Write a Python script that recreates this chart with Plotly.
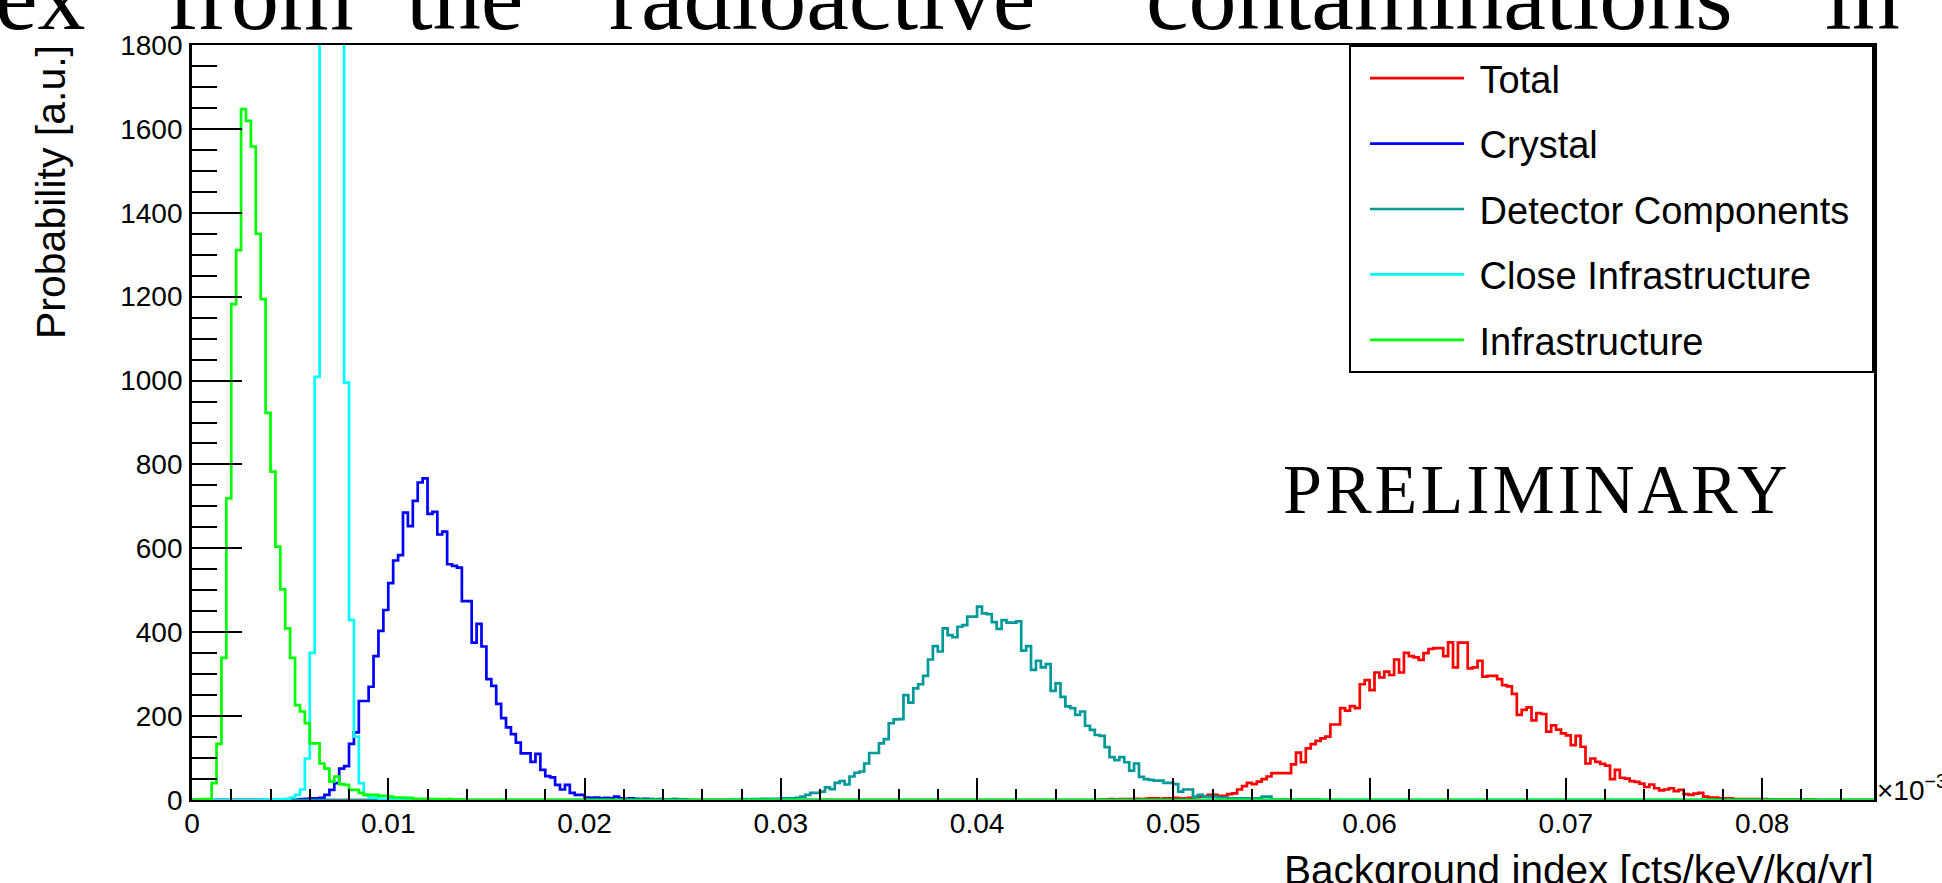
import numpy as np
import plotly.graph_objects as go

# ---------------- data ----------------
BIN_WIDTH = 0.00025
N_BINS = 343
X_RANGE = [0, 0.0857]
Y_RANGE = [0, 1800]

series_names = ["Total", "Crystal", "Detector Components", "Close Infrastructure", "Infrastructure"]
series_colors = ["#ff0000", "#0000ff", "#009999", "#00ffff", "#00ff00"]

total_first_bin = 185
total_values = [1, 1, 2, 1, 2, 2, 2, 3, 2, 3,
                4, 4, 3, 4, 4, 5, 4, 4, 5, 6,
                8, 8, 12, 12, 10, 10,
                14, 16, 25, 33, 41, 38, 44, 50, 56, 64, 64, 64, 64, 85, 113, 90, 123, 133, 141, 147,
                151, 180, 180, 219, 213, 224, 219, 276, 286, 262, 304, 292, 306, 298, 335, 304, 351,
                343, 340, 334, 350, 360, 362, 362, 343, 376, 316, 375, 375, 314, 316, 332, 294, 296,
                296, 288, 274, 271, 253, 203, 215, 221, 190, 207, 205, 163, 178, 168, 159, 154, 131,
                153, 127, 87, 99, 91, 86, 82, 50, 72, 53, 51, 45, 43, 39, 31, 37, 28, 23, 25, 28, 21,
                24, 14, 12, 15, 17, 8, 6, 6, 4, 4, 4, 2, 2, 2, 2, 2, 2, 2,
                1, 1, 1, 1, 1, 1, 1, 1, 1, 1]

crystal_first_bin = 20
crystal_values = [1, 1, 2, 3, 4, 4, 5,
                  12, 24, 40, 75, 81, 134, 161, 236, 236, 270, 343, 403, 453, 517, 571, 584, 685,
                  653, 713, 757, 767, 682, 687, 633, 640, 562, 558, 554, 474, 474, 375, 420, 366,
                  288, 272, 229, 195, 173, 157, 137, 111, 111, 91, 110, 72, 57, 54, 36, 25, 36, 17,
                  12, 12, 6, 5, 6, 4, 5, 4, 8, 4, 3, 4, 3, 2, 3, 2, 1, 2, 1, 1, 2, 1, 1]

detector_first_bin = 110
detector_values = [1, 1, 2, 1, 2, 2, 3, 3, 2, 3,
                   4, 4, 4, 5,
                   8, 12, 17, 17, 20, 30, 26, 41, 45, 37, 56, 65, 68, 87, 112, 112, 135, 145, 183,
                   192, 193, 250, 232, 266, 276, 296, 335, 367, 354, 409, 393, 388, 413, 417, 437,
                   437, 461, 445, 443, 424, 408, 429, 423, 423, 426, 356, 367, 310, 332, 316, 324,
                   260, 278, 246, 223, 219, 203, 211, 177, 167, 155, 153, 126, 102, 95, 102, 90, 70,
                   87, 55, 50, 48, 46, 46, 41, 41, 38, 20, 25, 25, 8, 12, 8, 8, 8, 6, 6,
                   4, 4, 4, 4, 4, 4, 4, 8, 8,
                   1, 1, 1, 1, 1, 1, 1, 1, 1, 1]

close_first_bin = 14
close_values = [1, 1, 1, 2, 2, 3, 6, 12, 25, 99, 351, 1009,
                1980, 2980, 3420, 2980, 1980,          # clipped above 1800 in the picture
                995, 429, 151, 40, 12, 6, 6, 2, 2, 1, 1]

infra_first_bin = 0
infra_values = [0, 1, 2, 2, 40, 134, 339, 719, 1182, 1311, 1647, 1619, 1558, 1350, 1194, 923,
                783, 604, 502, 409, 339, 226, 211, 183, 135, 135, 87, 75, 44, 56, 38, 36, 24, 24,
                17, 12, 12, 12, 10, 10, 8, 6, 6, 5, 5, 3, 2, 3, 2, 2, 2, 1, 2, 1, 1, 1]

x_tick_values = [0, 0.01, 0.02, 0.03, 0.04, 0.05, 0.06, 0.07, 0.08]
x_tick_labels = ["0", "0.01", "0.02", "0.03", "0.04", "0.05", "0.06", "0.07", "0.08"]
y_tick_values = [0, 200, 400, 600, 800, 1000, 1200, 1400, 1600, 1800]
y_tick_labels = ["0", "200", "400", "600", "800", "1000", "1200", "1400", "1600", "1800"]

x_title = "Background index [cts/keV/kg/yr]"
y_title = "Probability [a.u.]"
x_exponent = "\u00d710<sup>\u22123</sup>"
watermark = "PRELIMINARY"
header_words = ["dex", "from", "the", "radioactive", "contaminations", "in"]

# ---------------- figure ----------------
SANS = "Liberation Sans, Arial, Helvetica, sans-serif"
SERIF = "Liberation Serif, Times New Roman, serif"

first_bins = [total_first_bin, crystal_first_bin, detector_first_bin, close_first_bin, infra_first_bin]
all_values = [total_values, crystal_values, detector_values, close_values, infra_values]

edges = np.arange(N_BINS + 1) * BIN_WIDTH

fig = go.Figure()
for name, color, first, vals in zip(series_names, series_colors, first_bins, all_values):
    counts = np.zeros(N_BINS)
    counts[first:first + len(vals)] = vals
    y = np.append(counts, counts[-1])
    fig.add_trace(go.Scatter(
        x=edges, y=y, mode="lines", name="\u00a0" + name + "\u00a0\u2006", legendgroup=name,
        line=dict(color=color, width=2.7, shape="hv"),
        hoverinfo="skip",
    ))

# plot area in px: x 192..1874, y 45..800
L, R, T, B = 192, 1874, 45, 800
W, H = R - L, B - T


def px_x(p):
    return (p - L) / W


def px_y(p):
    return (B - p) / H


fig.update_layout(
    width=1942, height=883,
    margin=dict(l=L, r=1942 - R, t=T, b=883 - B, autoexpand=False),
    paper_bgcolor="white", plot_bgcolor="white",
    font=dict(family=SANS, color="black", size=28),
    showlegend=True,
    legend=dict(
        x=1, xanchor="right", y=1, yanchor="top",
        bgcolor="white", bordercolor="black", borderwidth=2,
        font=dict(family=SANS, size=38, color="black"),
        tracegroupgap=13, itemwidth=94, indentation=14,
    ),
    xaxis=dict(
        range=X_RANGE, showgrid=False, zeroline=False,
        showline=True, linecolor="black", linewidth=2, mirror=True,
        ticks="inside", ticklen=22, tickwidth=2, tickcolor="black",
        tickmode="array", tickvals=x_tick_values, ticktext=x_tick_labels,
        tickfont=dict(family=SANS, size=28, color="black"),
        minor=dict(ticks="inside", ticklen=11, tickwidth=2, tickcolor="black",
                   tick0=0, dtick=0.002),
        ticklabelstandoff=-3,
    ),
    yaxis=dict(
        range=Y_RANGE, showgrid=False, zeroline=False,
        showline=True, linecolor="black", linewidth=2.8, mirror=True,
        ticks="inside", ticklen=50, tickwidth=2, tickcolor="black",
        tickmode="array", tickvals=y_tick_values, ticktext=y_tick_labels,
        tickfont=dict(family=SANS, size=28, color="black"),
        minor=dict(ticks="inside", ticklen=25, tickwidth=2, tickcolor="black",
                   tick0=0, dtick=50),
        ticklabelstandoff=1,
    ),
)

annotations = [
    dict(text=y_title, textangle=-90, xref="paper", yref="paper",
         x=px_x(51), y=1, xanchor="center", yanchor="top", showarrow=False,
         font=dict(family=SANS, size=41, color="black"), borderpad=0, borderwidth=0),
    dict(text=x_title, xref="paper", yref="paper",
         x=1, y=px_y(870), xanchor="right", yanchor="middle", showarrow=False,
         font=dict(family=SANS, size=40.5, color="black"), borderpad=0, borderwidth=0),
    dict(text=x_exponent, xref="paper", yref="paper",
         x=px_x(1877), y=px_y(806), xanchor="left", yanchor="bottom", showarrow=False,
         font=dict(family=SANS, size=28, color="black"), borderpad=0, borderwidth=0),
    dict(text='<span style="letter-spacing:3px">' + watermark + '</span>',
         xref="paper", yref="paper",
         x=px_x(1536), y=px_y(489), xanchor="center", yanchor="middle", showarrow=False,
         font=dict(family=SERIF, size=70, color="black"), borderpad=0, borderwidth=0),
]

HEADER_SIZE = 96
# horizontal centres (px) of the words of the cut-off text line above the chart
header_centre_px = [None, 260, 464, 822, 1439, 1862]
for word, centre in zip(header_words, header_centre_px):
    if centre is None:
        annotations.append(dict(text=word, xref="paper", yref="paper", x=px_x(86), y=px_y(50),
                                xanchor="right", yanchor="bottom", showarrow=False,
                                font=dict(family=SERIF, size=HEADER_SIZE, color="black"),
                                borderpad=0, borderwidth=0))
    else:
        annotations.append(dict(text=word, xref="paper", yref="paper", x=px_x(centre), y=px_y(50),
                                xanchor="center", yanchor="bottom", showarrow=False,
                                font=dict(family=SERIF, size=HEADER_SIZE, color="black"),
                                borderpad=0, borderwidth=0))

fig.update_layout(annotations=annotations)

fig.write_html(
    "out.html",
    config={"displayModeBar": False},
    post_script="document.body.style.margin='0px';document.body.style.overflow='hidden';",
)
